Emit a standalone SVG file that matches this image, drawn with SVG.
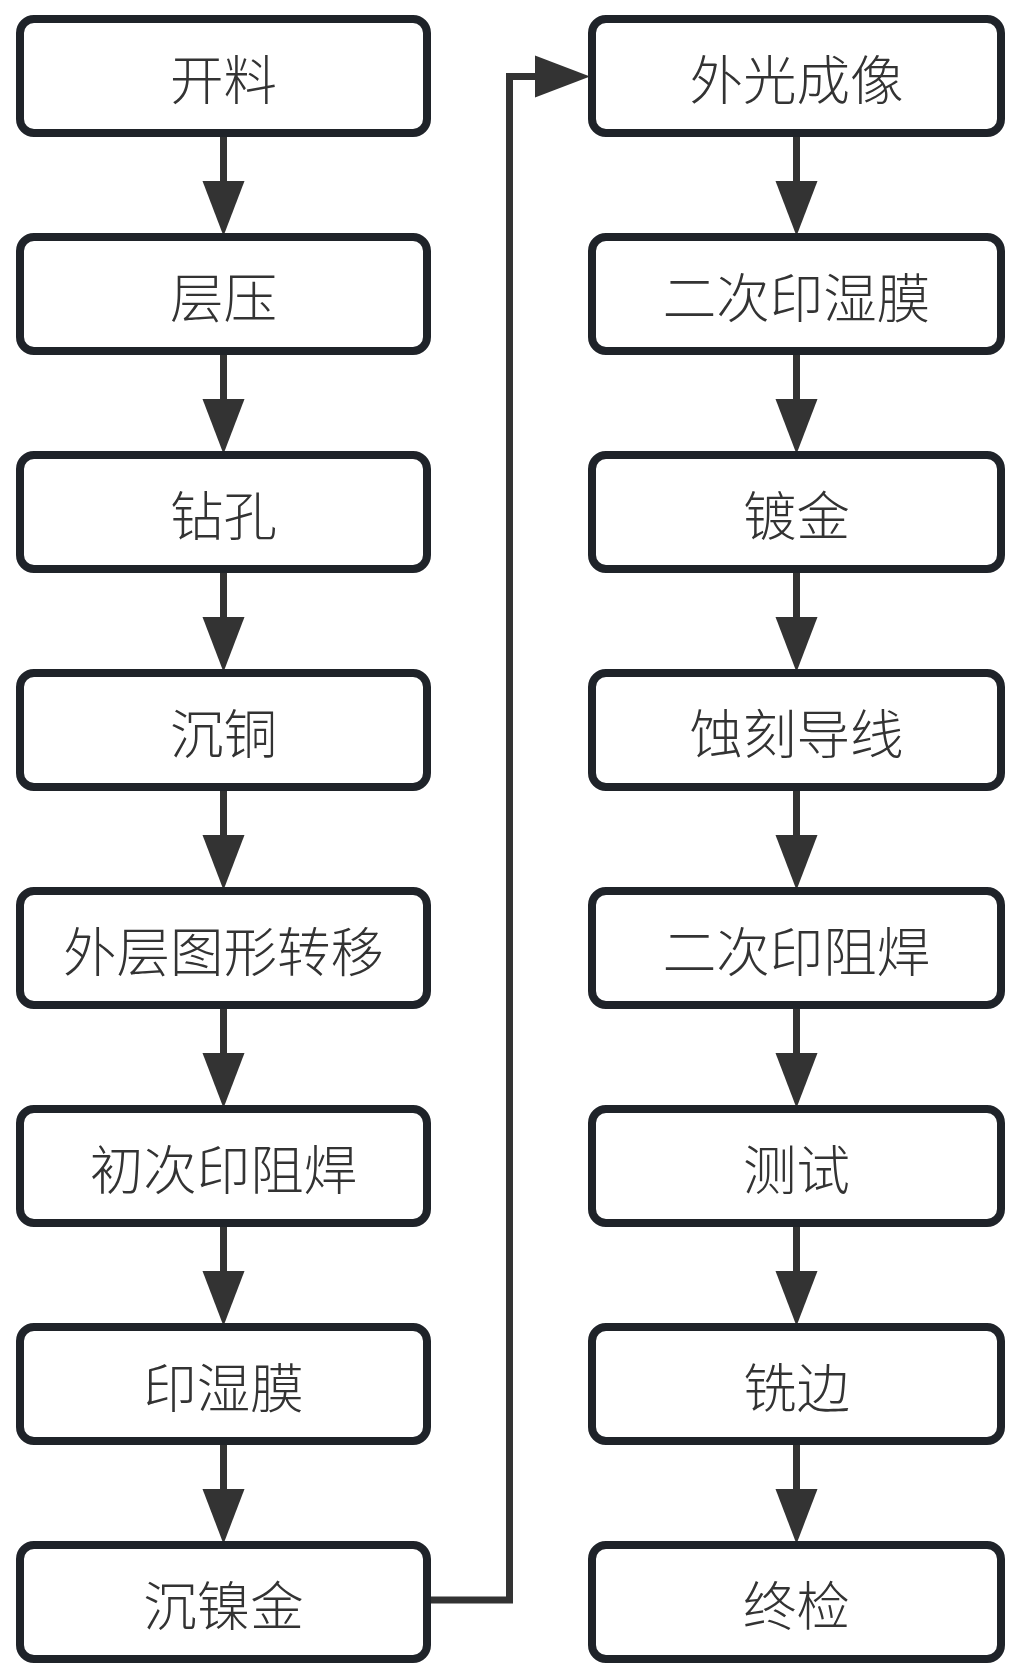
<svg xmlns="http://www.w3.org/2000/svg" width="1020" height="1675" viewBox="0 0 1020 1675">
<style>
.box{fill:#ffffff;stroke:#1f2329;stroke-width:8}
.lbl{font-family:"Noto Sans CJK SC","Noto Sans",sans-serif;font-size:53.5px;font-weight:300;fill:#333333;text-anchor:middle}
.edge{fill:none;stroke:#333333;stroke-width:7}
</style>
<defs>
<marker id="ah" markerUnits="userSpaceOnUse" markerWidth="56" markerHeight="44" refX="0" refY="21" orient="auto" viewBox="0 0 56 42">
<path d="M0,0 L55,21 L0,42 Z" fill="#333333"/>
</marker>
</defs>
<rect width="1020" height="1675" fill="#ffffff"/>
<g id="connectors">
<path class="edge" d="M223.5,137 V181" marker-end="url(#ah)"/>
<path class="edge" d="M223.5,355 V399" marker-end="url(#ah)"/>
<path class="edge" d="M223.5,573 V617" marker-end="url(#ah)"/>
<path class="edge" d="M223.5,791 V835" marker-end="url(#ah)"/>
<path class="edge" d="M223.5,1009 V1053" marker-end="url(#ah)"/>
<path class="edge" d="M223.5,1227 V1271" marker-end="url(#ah)"/>
<path class="edge" d="M223.5,1445 V1489" marker-end="url(#ah)"/>
<path class="edge" d="M431,1600 H509.5 V76.5 H535" marker-end="url(#ah)"/>
<path class="edge" d="M796.5,137 V181" marker-end="url(#ah)"/>
<path class="edge" d="M796.5,355 V399" marker-end="url(#ah)"/>
<path class="edge" d="M796.5,573 V617" marker-end="url(#ah)"/>
<path class="edge" d="M796.5,791 V835" marker-end="url(#ah)"/>
<path class="edge" d="M796.5,1009 V1053" marker-end="url(#ah)"/>
<path class="edge" d="M796.5,1227 V1271" marker-end="url(#ah)"/>
<path class="edge" d="M796.5,1445 V1489" marker-end="url(#ah)"/>
</g>
<g id="n1"><rect class="box" x="20" y="19" width="407" height="114" rx="14"/><text class="lbl" x="223.5" y="100">开料</text></g>
<g id="n2"><rect class="box" x="20" y="237" width="407" height="114" rx="14"/><text class="lbl" x="223.5" y="318">层压</text></g>
<g id="n3"><rect class="box" x="20" y="455" width="407" height="114" rx="14"/><text class="lbl" x="223.5" y="536">钻孔</text></g>
<g id="n4"><rect class="box" x="20" y="673" width="407" height="114" rx="14"/><text class="lbl" x="223.5" y="754">沉铜</text></g>
<g id="n5"><rect class="box" x="20" y="891" width="407" height="114" rx="14"/><text class="lbl" x="223.5" y="972">外层图形转移</text></g>
<g id="n6"><rect class="box" x="20" y="1109" width="407" height="114" rx="14"/><text class="lbl" x="223.5" y="1190">初次印阻焊</text></g>
<g id="n7"><rect class="box" x="20" y="1327" width="407" height="114" rx="14"/><text class="lbl" x="223.5" y="1408">印湿膜</text></g>
<g id="n8"><rect class="box" x="20" y="1545" width="407" height="114" rx="14"/><text class="lbl" x="223.5" y="1626">沉镍金</text></g>
<g id="n9"><rect class="box" x="592" y="19" width="409" height="114" rx="14"/><text class="lbl" x="796.5" y="100">外光成像</text></g>
<g id="n10"><rect class="box" x="592" y="237" width="409" height="114" rx="14"/><text class="lbl" x="796.5" y="318">二次印湿膜</text></g>
<g id="n11"><rect class="box" x="592" y="455" width="409" height="114" rx="14"/><text class="lbl" x="796.5" y="536">镀金</text></g>
<g id="n12"><rect class="box" x="592" y="673" width="409" height="114" rx="14"/><text class="lbl" x="796.5" y="754">蚀刻导线</text></g>
<g id="n13"><rect class="box" x="592" y="891" width="409" height="114" rx="14"/><text class="lbl" x="796.5" y="972">二次印阻焊</text></g>
<g id="n14"><rect class="box" x="592" y="1109" width="409" height="114" rx="14"/><text class="lbl" x="796.5" y="1190">测试</text></g>
<g id="n15"><rect class="box" x="592" y="1327" width="409" height="114" rx="14"/><text class="lbl" x="796.5" y="1408">铣边</text></g>
<g id="n16"><rect class="box" x="592" y="1545" width="409" height="114" rx="14"/><text class="lbl" x="796.5" y="1626">终检</text></g>
</svg>
